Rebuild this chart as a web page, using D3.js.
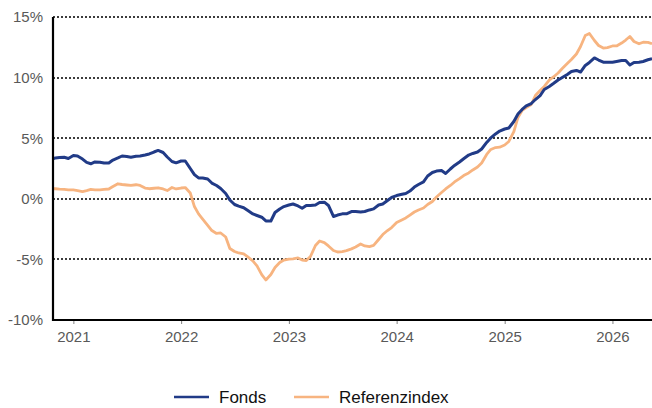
<!DOCTYPE html>
<html>
<head>
<meta charset="utf-8">
<script src="https://cdn.jsdelivr.net/npm/d3@7"></script>
<style>
  html, body { margin: 0; padding: 0; background: #fff; }
  svg { display: block; font-family: "Liberation Sans", Arial, sans-serif; }
</style>
</head>
<body>
<svg id="chart" width="652" height="408"></svg>
<script>
// ---- data ----
const dates = [
  "2020-10-24","2020-11-01","2020-11-15","2020-12-01","2020-12-15",
  "2021-01-01","2021-01-15","2021-02-01","2021-02-15","2021-03-01","2021-03-15","2021-04-01","2021-04-15","2021-05-01","2021-05-15","2021-06-01","2021-06-15",
  "2021-07-01","2021-07-15","2021-08-01","2021-08-15","2021-09-01","2021-09-15","2021-10-01","2021-10-15","2021-11-01","2021-11-15","2021-12-01","2021-12-15",
  "2022-01-01","2022-01-15","2022-02-01","2022-02-15","2022-03-01","2022-03-15","2022-04-01","2022-04-15","2022-05-01","2022-05-15","2022-06-01","2022-06-15",
  "2022-07-01","2022-07-15","2022-08-01","2022-08-15","2022-09-01","2022-09-15","2022-10-01","2022-10-15","2022-11-01","2022-11-15","2022-12-01","2022-12-15",
  "2023-01-01","2023-01-15","2023-02-01","2023-02-15","2023-03-01","2023-03-15","2023-04-01","2023-04-15","2023-05-01","2023-05-15","2023-06-01","2023-06-15",
  "2023-07-01","2023-07-15","2023-08-01","2023-08-15","2023-09-01","2023-09-15","2023-10-01","2023-10-15","2023-11-01","2023-11-15","2023-12-01","2023-12-15",
  "2024-01-01","2024-01-15","2024-02-01","2024-02-15","2024-03-01","2024-03-15","2024-04-01","2024-04-15","2024-05-01","2024-05-15","2024-06-01","2024-06-15",
  "2024-07-01","2024-07-15","2024-08-01","2024-08-15","2024-09-01","2024-09-15","2024-10-01","2024-10-15","2024-11-01","2024-11-15","2024-12-01","2024-12-15",
  "2025-01-01","2025-01-15","2025-02-01","2025-02-15","2025-03-01","2025-03-15","2025-04-01","2025-04-15","2025-05-01","2025-05-15","2025-06-01","2025-06-15",
  "2025-07-01","2025-07-15","2025-08-01","2025-08-15","2025-09-01","2025-09-15","2025-10-01","2025-10-15","2025-11-01","2025-11-15","2025-12-01","2025-12-15",
  "2026-01-01","2026-01-15","2026-02-01","2026-02-15","2026-03-01","2026-03-15","2026-04-01","2026-04-15","2026-05-01","2026-05-15"
];

const fonds = [
  3.30,3.37,3.41,3.43,3.33,
  3.57,3.53,3.28,3.00,2.89,3.04,3.02,2.95,2.95,3.20,3.37,3.53,
  3.49,3.43,3.51,3.53,3.61,3.70,3.86,3.99,3.82,3.45,3.08,2.97,
  3.12,3.12,2.50,2.00,1.72,1.72,1.63,1.30,1.10,0.85,0.44,-0.10,
  -0.47,-0.61,-0.74,-0.97,-1.25,-1.38,-1.52,-1.83,-1.83,-1.13,-0.84,-0.64,
  -0.51,-0.43,-0.59,-0.78,-0.55,-0.55,-0.51,-0.31,-0.28,-0.55,-1.46,-1.34,
  -1.24,-1.24,-1.05,-1.05,-1.09,-1.05,-0.92,-0.83,-0.51,-0.43,-0.14,0.11,
  0.27,0.35,0.44,0.64,0.97,1.18,1.39,1.88,2.17,2.29,2.33,2.09,
  2.46,2.75,3.04,3.30,3.61,3.74,3.86,4.11,4.65,5.02,5.35,5.59,
  5.76,5.84,6.38,7.00,7.37,7.66,7.86,8.19,8.52,9.02,9.27,9.51,
  9.80,10.01,10.26,10.50,10.59,10.46,11.00,11.25,11.62,11.45,11.27,11.27,
  11.27,11.33,11.41,11.41,11.04,11.25,11.27,11.33,11.47,11.55
];

const referenzindex = [
  0.83,0.83,0.79,0.77,0.74,
  0.73,0.68,0.60,0.68,0.77,0.74,0.74,0.77,0.81,1.01,1.24,1.18,
  1.14,1.10,1.16,1.10,0.89,0.83,0.87,0.91,0.81,0.68,0.93,0.81,
  0.89,0.93,0.48,-0.64,-1.24,-1.67,-2.20,-2.62,-2.86,-2.82,-3.15,-4.10,
  -4.35,-4.47,-4.54,-4.80,-5.13,-5.54,-6.25,-6.70,-6.25,-5.67,-5.26,-5.05,
  -4.97,-4.95,-4.88,-5.05,-5.09,-4.76,-3.85,-3.48,-3.61,-3.89,-4.27,-4.39,
  -4.35,-4.27,-4.13,-3.98,-3.73,-3.89,-3.94,-3.85,-3.36,-2.95,-2.62,-2.37,
  -1.96,-1.79,-1.58,-1.34,-1.09,-0.92,-0.76,-0.47,-0.22,0.15,0.52,0.81,
  1.10,1.39,1.67,1.92,2.13,2.38,2.62,2.95,3.66,4.07,4.23,4.26,
  4.44,4.73,5.55,6.71,7.29,7.53,7.78,8.52,8.94,9.27,9.80,10.05,
  10.38,10.75,11.16,11.49,11.95,12.57,13.47,13.64,13.06,12.65,12.44,12.48,
  12.61,12.61,12.85,13.10,13.39,12.98,12.79,12.92,12.90,12.79
];

const yTicks = [-10, -5, 0, 5, 10, 15];
const xTickYears = ["2021","2022","2023","2024","2025","2026"];
const seriesNames = ["Fonds", "Referenzindex"];
const colors = ["#213b87", "#f7b480"];

// ---- layout ----
const parse = d3.timeParse("%Y-%m-%d");
const svg = d3.select("#chart");
const mLeft = 53, mRight = 652, mTop = 17, mBottom = 320;

const x = d3.scaleTime()
  .domain([parse("2020-10-24"), parse("2026-05-15")])
  .range([mLeft, mRight]);
const y = d3.scaleLinear().domain([-10, 15]).range([mBottom, mTop]);

// gridlines (dotted)
svg.append("g")
  .selectAll("line")
  .data(yTicks.filter(d => d !== -10))
  .join("line")
  .attr("x1", mLeft).attr("x2", mRight)
  .attr("y1", d => Math.round(y(d))).attr("y2", d => Math.round(y(d)))
  .attr("stroke", "#3c3c3c")
  .attr("stroke-width", 2)
  .attr("stroke-dasharray", "2,2");

// y axis labels
const yAxis = d3.axisLeft(y).tickValues(yTicks).tickSize(0).tickPadding(10)
  .tickFormat(d => d + "%");
const gy = svg.append("g").attr("transform", `translate(${mLeft},0)`).call(yAxis);
gy.select(".domain").remove();
gy.selectAll("text")
  .attr("font-family", "'Liberation Sans', Arial, sans-serif")
  .attr("font-size", 15).attr("fill", "#595959");

// x axis
const xAxis = d3.axisBottom(x)
  .tickValues(xTickYears.map(s => parse(s + "-01-01")))
  .tickSize(4).tickPadding(7)
  .tickFormat(d3.timeFormat("%Y"));
const gx = svg.append("g").attr("transform", `translate(0,${mBottom})`).call(xAxis);
gx.select(".domain").remove();
gx.selectAll(".tick line").attr("stroke", "#808080").attr("stroke-width", 1);
gx.selectAll("text")
  .attr("font-family", "'Liberation Sans', Arial, sans-serif")
  .attr("font-size", 15).attr("fill", "#595959");

// series lines
const data = dates.map((d, i) => ({ date: parse(d), f: fonds[i], r: referenzindex[i] }));
const lineR = d3.line().x(d => x(d.date)).y(d => y(d.r));
const lineF = d3.line().x(d => x(d.date)).y(d => y(d.f));

svg.append("path").datum(data)
  .attr("d", lineR).attr("fill", "none")
  .attr("stroke", colors[1]).attr("stroke-width", 2.8)
  .attr("stroke-linejoin", "round");
svg.append("path").datum(data)
  .attr("d", lineF).attr("fill", "none")
  .attr("stroke", colors[0]).attr("stroke-width", 3)
  .attr("stroke-linejoin", "round");

// axis lines
svg.append("line")
  .attr("x1", mLeft).attr("x2", mLeft).attr("y1", mTop).attr("y2", mBottom + 1)
  .attr("stroke", "#000").attr("stroke-width", 2.2);
svg.append("line")
  .attr("x1", mLeft - 1).attr("x2", mRight).attr("y1", mBottom).attr("y2", mBottom)
  .attr("stroke", "#000").attr("stroke-width", 2.2);

// legend
const legendX = [174, 294];
const lg = svg.append("g");
seriesNames.forEach((name, i) => {
  lg.append("line")
    .attr("x1", legendX[i]).attr("x2", legendX[i] + 35)
    .attr("y1", 397).attr("y2", 397)
    .attr("stroke", colors[i]).attr("stroke-width", 2.6);
  lg.append("text")
    .attr("x", legendX[i] + 45).attr("y", 402.5)
    .attr("font-family", "'Liberation Sans', Arial, sans-serif")
    .attr("font-size", 17).attr("fill", "#111")
    .text(name);
});
</script>
</body>
</html>
